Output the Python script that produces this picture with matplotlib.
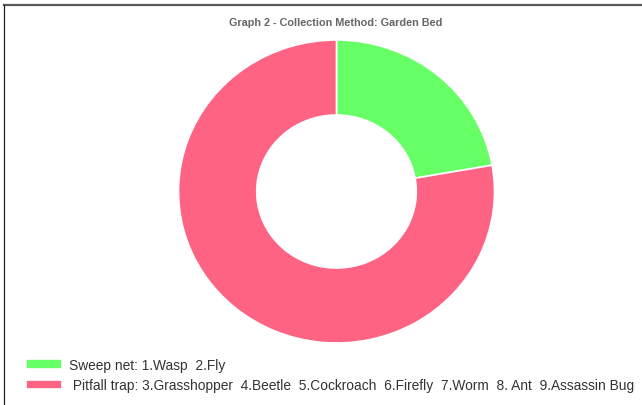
import matplotlib.pyplot as plt
from matplotlib.lines import Line2D

# data
methods = ['Sweep net', 'Pitfall trap']
counts = [2, 7]
colors = ['#66FF66', '#FF6384']
legend_labels = ['Sweep net: 1.Wasp  2.Fly',
                 ' Pitfall trap: 3.Grasshopper  4.Beetle  5.Cockroach  6.Firefly  7.Worm  8. Ant  9.Assassin Bug']
title = 'Graph 2 - Collection Method: Garden Bed'

W, H = 642, 406
plt.rcParams['font.family'] = ['Liberation Sans', 'DejaVu Sans']
fig = plt.figure(figsize=(W / 100, H / 100), dpi=100)
ax = fig.add_axes([0, 0, 1, 1])

wedges, _ = ax.pie(counts, colors=colors, startangle=90, counterclock=False,
                   wedgeprops=dict(width=0.495, edgecolor='white', linewidth=1.2))

# pixel layout of the donut (slightly squashed vertically in the reference)
cx, cy, rx, ry = 336.5, 192.5, 158, 151.5
ax.set_aspect('auto')
ax.set_xlim((0 - cx) / rx, (W - cx) / rx)
ax.set_ylim((cy - H) / ry, cy / ry)
ax.axis('off')

fig.text(336 / W, 1 - 23.5 / H, title, ha='center', va='center',
         fontsize=7.85, fontweight='bold', color='#666666')

# border lines of the screenshot
fig.add_artist(Line2D([4 / W, 1], [1 - 5.8 / H] * 2, transform=fig.transFigure,
                      color='#5a5a5a', lw=1.6))
fig.add_artist(Line2D([4 / W] * 2, [0, 1 - 5.8 / H], transform=fig.transFigure,
                      color='#222222', lw=0.9))

leg = fig.legend(wedges, legend_labels, loc='upper left',
                 bbox_to_anchor=(25.5 / W, 1 - 359 / H), frameon=False,
                 fontsize=9.88, handlelength=2.66, handleheight=0.72,
                 handletextpad=0.5, labelspacing=0.46, borderpad=0,
                 borderaxespad=0)
for t in leg.get_texts():
    t.set_color('#333333')

fig.savefig('out.png', dpi=100)
